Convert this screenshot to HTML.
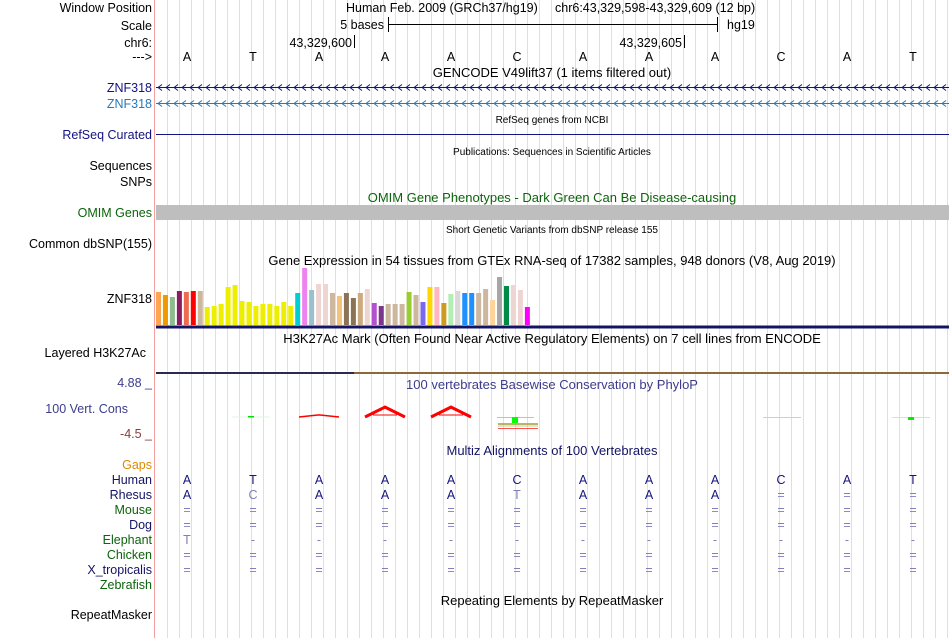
<!DOCTYPE html>
<html><head><meta charset="utf-8">
<style>
html,body{margin:0;padding:0;background:#fff;}
svg{display:block;font-family:"Liberation Sans",sans-serif;}
</style></head>
<body>
<svg id="chart" width="950" height="638" viewBox="0 0 950 638" xmlns="http://www.w3.org/2000/svg">
<g id="grid"></g>
<line x1="154.5" y1="0" x2="154.5" y2="638" stroke="#f4a0a0" stroke-width="1"/>
<g font-size="12.5" text-anchor="end">
<text x="152" y="12" fill="#000">Window Position</text>
<text x="152" y="30" fill="#000">Scale</text>
<text x="152" y="47" fill="#000">chr6:</text>
<text x="152" y="61" fill="#000">---&gt;</text>
<text x="152" y="92" fill="#141480">ZNF318</text>
<text x="152" y="108" fill="#2a78b8">ZNF318</text>
<text x="152" y="139" fill="#141480">RefSeq Curated</text>
<text x="152" y="170" fill="#000">Sequences</text>
<text x="152" y="186" fill="#000">SNPs</text>
<text x="152" y="217" fill="#0c640c">OMIM Genes</text>
<text x="152" y="248" fill="#000">Common dbSNP(155)</text>
<text x="152" y="303" fill="#000">ZNF318</text>
<text x="146" y="357" fill="#000">Layered H3K27Ac</text>
<text x="152" y="387" fill="#3c3c8c">4.88 _</text>
<text x="128" y="413" fill="#3c3c8c">100 Vert. Cons</text>
<text x="152" y="438" fill="#8c3c3c">-4.5 _</text>
<text x="152" y="469" fill="#e08a00">Gaps</text>
<text x="152" y="484" fill="#141464">Human</text>
<text x="152" y="499" fill="#141464">Rhesus</text>
<text x="152" y="514" fill="#0c640c">Mouse</text>
<text x="152" y="529" fill="#141464">Dog</text>
<text x="152" y="544" fill="#0c640c">Elephant</text>
<text x="152" y="559" fill="#0c640c">Chicken</text>
<text x="152" y="574" fill="#141464">X_tropicalis</text>
<text x="152" y="589" fill="#0c640c">Zebrafish</text>
<text x="152" y="619" fill="#000">RepeatMasker</text>
</g>
<g font-size="13" text-anchor="middle">
<text x="346" y="12" text-anchor="start" font-size="12.5" fill="#000">Human Feb. 2009 (GRCh37/hg19)</text>
<text x="555" y="12" text-anchor="start" font-size="12.5" fill="#000">chr6:43,329,598-43,329,609 (12 bp)</text>
<text x="552" y="77" fill="#000">GENCODE V49lift37 (1 items filtered out)</text>
<text x="552" y="123" font-size="10" fill="#000">RefSeq genes from NCBI</text>
<text x="552" y="155" font-size="10" fill="#000">Publications: Sequences in Scientific Articles</text>
<text x="552" y="202" fill="#0c640c">OMIM Gene Phenotypes - Dark Green Can Be Disease-causing</text>
<text x="552" y="233" font-size="10" fill="#000">Short Genetic Variants from dbSNP release 155</text>
<text x="552" y="265" fill="#000">Gene Expression in 54 tissues from GTEx RNA-seq of 17382 samples, 948 donors (V8, Aug 2019)</text>
<text x="552" y="343" fill="#000">H3K27Ac Mark (Often Found Near Active Regulatory Elements) on 7 cell lines from ENCODE</text>
<text x="552" y="389" fill="#3c3c8c">100 vertebrates Basewise Conservation by PhyloP</text>
<text x="552" y="455" fill="#141464">Multiz Alignments of 100 Vertebrates</text>
<text x="552" y="605" fill="#000">Repeating Elements by RepeatMasker</text>
</g>
<g font-size="12.5" fill="#000">
<text x="384" y="29" text-anchor="end">5 bases</text>
<line x1="388" y1="24.5" x2="717" y2="24.5" stroke="#000"/>
<line x1="388.5" y1="17" x2="388.5" y2="32" stroke="#000"/>
<line x1="717.5" y1="17" x2="717.5" y2="32" stroke="#000"/>
<text x="727" y="29">hg19</text>
<text x="352" y="47" text-anchor="end">43,329,600</text>
<line x1="354.5" y1="35" x2="354.5" y2="48" stroke="#000"/>
<text x="682" y="47" text-anchor="end">43,329,605</text>
<line x1="684.5" y1="35" x2="684.5" y2="48" stroke="#000"/>
</g>
<g id="bases" font-size="12.5" text-anchor="middle"></g>
<g id="genes"></g>
<line x1="156" y1="134.5" x2="949" y2="134.5" stroke="#141480" stroke-width="1"/>
<rect x="156" y="205" width="793" height="15" fill="#bebebe"/>
<g id="gtex"></g>
<rect x="156" y="325.5" width="793" height="3" fill="#141464"/>
<rect x="156" y="372" width="198" height="2" fill="#2a2a50"/>
<rect x="354" y="372" width="595" height="2" fill="#8a6a3a"/>
<g id="cons"></g>
<g id="multiz" font-size="12.5" text-anchor="middle"></g>
<script>
const bases = ["A","T","A","A","A","C","A","A","A","C","A","T"];
const rhesus = ["A","C","A","A","A","T","A","A","A","=","=","="];
const mouse = ["=","=","=","=","=","=","=","=","=","=","=","="];
const dog = ["=","=","=","=","=","=","=","=","=","=","=","="];
const elephant = ["T","-","-","-","-","-","-","-","-","-","-","-"];
const chicken = ["=","=","=","=","=","=","=","=","=","=","=","="];
const xtrop = ["=","=","=","=","=","=","=","=","=","=","=","="];
const gtexValues = [33,30,28,34,33,34,34,18,19,21,38,40,24,23,19,21,21,19,23,19,32,57,35,41,41,32,29,32,27,32,36,22,19,21,21,21,33,30,23,38,38,22,31,34,32,32,32,36,25,48,39,40,35,18];
const gtexColors = ["#FFA54F","#EE9A00","#8FBC8F","#8B1C62","#EE6A50","#FF0000","#CDB79E","#EEEE00","#EEEE00","#EEEE00","#EEEE00","#EEEE00","#EEEE00","#EEEE00","#EEEE00","#EEEE00","#EEEE00","#EEEE00","#EEEE00","#EEEE00","#00CED1","#EE82EE","#9AC0CD","#EED5D2","#EED5D2","#CDB79E","#F4C27A","#8B7355","#8B7355","#CDAA7D","#EED5D2","#B452CD","#7A378B","#CDB79E","#CDB79E","#CDB79E","#9ACD32","#CDB79E","#7B68EE","#FFD700","#FFB6C1","#CD9B1D","#B4EEB4","#D9D9D9","#1E90FF","#1E90FF","#CDB79E","#CDB79E","#FFD39B","#A6A6A6","#008B45","#EED5D2","#EED5D2","#FF00FF"];
const consValues = [0, 0, 0.7, 3.3, 3.3, 0, 0, 0, 0, 0, 0, 0];

const NS = "http://www.w3.org/2000/svg";
function mk(tag, attrs, parent){const e=document.createElementNS(NS,tag);for(const k in attrs)e.setAttribute(k,attrs[k]);parent.appendChild(e);return e;}
const baseX = i => 187 + 66*i;
const grid = document.getElementById('grid');
for(let x=167.5;x<950;x+=12){
  const l=mk('line',{x1:x,y1:0,x2:x,y2:638,stroke:'#dcdcf2','stroke-width':1},grid);
  
  
}
const bg=document.getElementById('bases');
bases.forEach((b,i)=>{const t=mk('text',{x:baseX(i),y:61,fill:'#000'},bg);t.textContent=b;
  
  });
const genes=document.getElementById('genes');
[[87.5,'#141480'],[103.5,'#2a78b8']].forEach(([y,c],k)=>{
  const g=mk('g',{},genes);
  
  
  mk('line',{x1:156,y1:y,x2:949,y2:y,stroke:c,'stroke-width':1},g);
  let d='';
  for(let x=158;x<948;x+=8){d+=`M${x+4} ${y-3}L${x} ${y}L${x+4} ${y+3}`;}
  mk('path',{d:d,stroke:c,fill:'none','stroke-width':1},g);
});
const gtex=document.getElementById('gtex');
const gy = v => 325 - v;
gtexValues.forEach((v,i)=>{
  const r=mk('rect',{x:156+i*6.96,y:gy(v),width:5,height:v,fill:gtexColors[i]},gtex);
  
  
});
const cons=document.getElementById('cons');
const cy0=417, cScale=3;
consValues.forEach((v,i)=>{
  if(v<=0) return;
  const x=baseX(i);
  const h=v*cScale;
  const p=mk('path',{d:`M${x-20} ${cy0}L${x} ${cy0-h}L${x+20} ${cy0}`,fill:'none',stroke:'#ff0000','stroke-width':v>2?3:1.5},cons);
  
  
  if(v>2){mk('line',{x1:x-12,y1:cy0-2,x2:x+12,y2:cy0-2,stroke:'#ff0000','stroke-width':1},cons);}
});
mk('line',{x1:232,y1:417,x2:270,y2:417,stroke:'#e0f4e0'},cons);
mk('rect',{x:248,y:416,width:6,height:1.5,fill:'#00dd00'},cons);
mk('line',{x1:497,y1:417.5,x2:534,y2:417.5,stroke:'#66ff66'},cons);
mk('rect',{x:512,y:417,width:6,height:6,fill:'#00ff00'},cons);
mk('line',{x1:498,y1:424,x2:538,y2:424,stroke:'#a0a030','stroke-width':1.5},cons);
mk('line',{x1:498,y1:426,x2:538,y2:426,stroke:'#c8c890','stroke-width':1},cons);
mk('line',{x1:498,y1:428.5,x2:538,y2:428.5,stroke:'#ff5050','stroke-width':1},cons);
mk('line',{x1:763,y1:417.5,x2:801,y2:417.5,stroke:'#d8d0a8'},cons);
mk('line',{x1:892,y1:417.5,x2:930,y2:417.5,stroke:'#c0f0c0'},cons);
mk('rect',{x:908,y:417,width:6,height:3,fill:'#00ee00'},cons);
const mz=document.getElementById('multiz');
const rows=[[bases,484],[rhesus,499],[mouse,514],[dog,529],[elephant,544],[chicken,559],[xtrop,574]];
rows.forEach(([arr,y],r)=>{
  arr.forEach((b,i)=>{
    let col='#141480';
    if(r>0){ col = (b===bases[i]) ? '#141480' : '#8080b8'; }
    if(b==='='||b==='-') col='#8080c0';
    const t=mk('text',{x:baseX(i),y:y,fill:col},mz);
    t.textContent=b;
    
    
  });
});
</script>
</svg>
</body></html>
